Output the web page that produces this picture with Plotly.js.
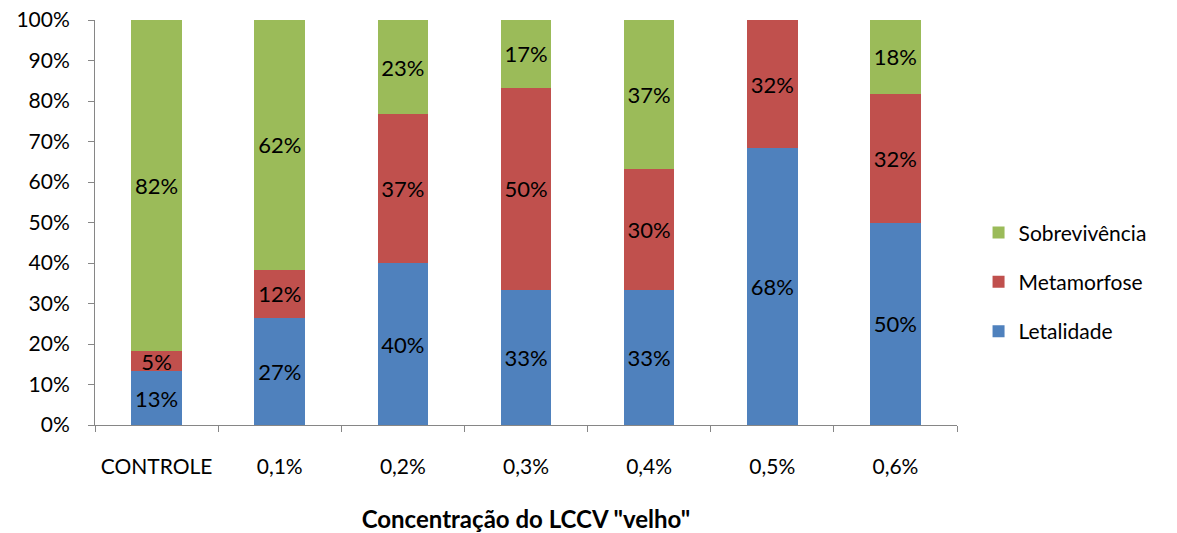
<!DOCTYPE html>
<html>
<head>
<meta charset="utf-8">
<script src="https://cdn.plot.ly/plotly-3.0.1.min.js"></script>
<style>html,body{margin:0;padding:0;background:#fff;}#chart{width:1177px;height:533px;}</style>
</head>
<body>
<div id="chart"></div>
<script>
const categories = ["CONTROLE", "0,1%", "0,2%", "0,3%", "0,4%", "0,5%", "0,6%"];
const letalidade = [13.3, 26.5, 40.0, 33.3, 33.3, 68.3, 50.0];
const metamorfose = [5.0, 11.8, 36.7, 50.0, 30.0, 31.7, 31.8];
const sobrevivencia = [81.7, 61.7, 23.3, 16.7, 36.7, 0, 18.2];
const yTicks = [0, 10, 20, 30, 40, 50, 60, 70, 80, 90, 100];

const FONT = "Lato, 'Open Sans', sans-serif";
function labels(arr) { return arr.map(v => v > 0 ? Math.round(v) + "%" : ""); }
function mk(name, vals, color, rank) {
  return {
    type: "bar", name: name, x: categories, y: vals,
    marker: { color: color },
    text: labels(vals), textposition: "inside", insidetextanchor: "middle",
    textangle: 0, constraintext: "none",
    textfont: { family: FONT, size: 22, color: "#000" },
    hoverinfo: "skip", legendgroup: name, legendrank: rank
  };
}
const data = [
  mk("Letalidade", letalidade, "#4F81BD", 3),
  mk("Metamorfose", metamorfose, "#C0504D", 2),
  mk("Sobrevivência", sobrevivencia, "#9BBB59", 1)
];
const layout = {
  width: 1177, height: 533,
  margin: { l: 95, r: 220, t: 20, b: 108 },
  barmode: "stack", bargap: 0.59,
  paper_bgcolor: "#fff", plot_bgcolor: "#fff",
  font: { family: FONT, size: 21, color: "#000" },
  xaxis: {
    type: "category", tickson: "boundaries", ticks: "outside", ticklen: 6,
    tickcolor: "#868686", showline: true, linecolor: "#868686", linewidth: 1,
    showgrid: false, tickfont: { family: FONT, size: 21 }, ticklabelstandoff: 23,
    automargin: false,
    title: { text: "<b>Concentração do LCCV \"velho\"</b>", font: { family: FONT, size: 24 }, standoff: 38 }
  },
  yaxis: {
    range: [0, 100], tickvals: yTicks, ticktext: yTicks.map(v => v + "%"),
    ticks: "outside", ticklen: 6, tickcolor: "#868686",
    showline: true, linecolor: "#868686", linewidth: 1, showgrid: false, zeroline: false,
    tickfont: { family: FONT, size: 21 }, ticklabelstandoff: 14, automargin: false
  },
  legend: {
    x: 1.025, xanchor: "left", y: 0.525, yanchor: "top",
    traceorder: "grouped", tracegroupgap: 19,
    font: { family: FONT, size: 21 }, itemwidth: 30
  },
  showlegend: true
};
Plotly.newPlot("chart", data, layout, { displayModeBar: false, staticPlot: true });
</script>
</body>
</html>
